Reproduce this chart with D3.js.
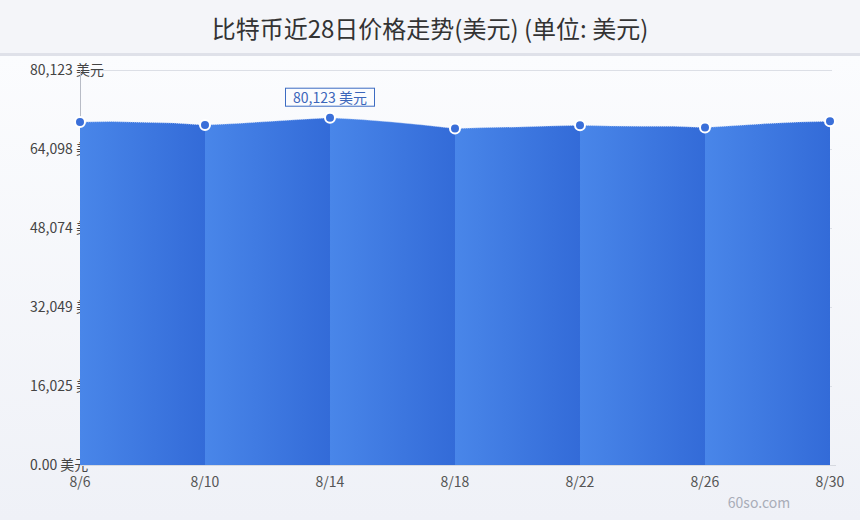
<!DOCTYPE html>
<html lang="zh">
<head>
<meta charset="utf-8">
<title>比特币近28日价格走势</title>
<script src="https://cdn.jsdelivr.net/npm/d3@7"></script>
<style>
  html, body { margin: 0; padding: 0; background: #f1f3f8; }
  svg { display: block; font-family: "Noto Sans CJK SC", "Noto Sans", sans-serif; }
</style>
</head>
<body>
<script>
// daily closing price, 8/6 .. 8/30
var days = ["8/6","8/7","8/8","8/9","8/10","8/11","8/12","8/13","8/14","8/15","8/16","8/17","8/18",
            "8/19","8/20","8/21","8/22","8/23","8/24","8/25","8/26","8/27","8/28","8/29","8/30"];
var prices = [69574, 69676, 69513, 69371, 68966, 69270, 69676, 70081, 70446, 70081, 69574, 68966, 68256,
              68459, 68561, 68763, 68905, 68763, 68702, 68702, 68459, 68864, 69270, 69574, 69716];
var yTicks = [0, 16025, 32049, 48074, 64098, 80123];
var yTickLabels = ["0.00 美元", "16,025 美元", "32,049 美元", "48,074 美元", "64,098 美元", "80,123 美元"];
var markIdx = [0, 4, 8, 12, 16, 20, 24];   // every 4th day gets a dot and a tick
var maxLabel = "80,123 美元";

var W = 860, H = 520;
var m = {top: 70, right: 30, bottom: 55, left: 80};

var svg = d3.select("body").append("svg").attr("width", W).attr("height", H);
var defs = svg.append("defs");

var bg = defs.append("linearGradient").attr("id", "bg").attr("x1", 0).attr("y1", 0).attr("x2", 0).attr("y2", 1);
bg.append("stop").attr("offset", "0%").attr("stop-color", "#fbfcfe");
bg.append("stop").attr("offset", "100%").attr("stop-color", "#eff1f7");

var seg = defs.append("linearGradient").attr("id", "seg").attr("x1", 0).attr("y1", 0).attr("x2", 1).attr("y2", 0);
seg.append("stop").attr("offset", "0%").attr("stop-color", "#4986e9");
seg.append("stop").attr("offset", "100%").attr("stop-color", "#336bd8");

// title bar + body background
svg.append("rect").attr("x", 0).attr("y", 56).attr("width", W).attr("height", H - 56).attr("fill", "url(#bg)");
svg.append("rect").attr("x", 0).attr("y", 0).attr("width", W).attr("height", 53).attr("fill", "#f4f5f9");
svg.append("rect").attr("x", 0).attr("y", 53).attr("width", W).attr("height", 3).attr("fill", "#dfe1e9");
svg.append("text").attr("x", W / 2).attr("y", 38).attr("text-anchor", "middle")
  .attr("font-size", 24).attr("fill", "#333")
  .text("比特币近28日价格走势(美元) (单位: 美元)");

var x = d3.scaleLinear().domain([0, days.length - 1]).range([m.left, W - m.right]);
var y = d3.scaleLinear().domain([0, 80123]).range([H - m.bottom, m.top]);

// grid lines
svg.append("g").selectAll("line").data(yTicks).join("line")
  .attr("x1", m.left).attr("x2", W - m.right + 2)
  .attr("y1", d => y(d) + 0.5).attr("y2", d => y(d) + 0.5)
  .attr("stroke", "#dcdfe6");

// y tick labels (left aligned, under the area)
svg.append("g").selectAll("text").data(yTicks).join("text")
  .attr("x", 30).attr("y", d => y(d) + 5)
  .attr("font-size", 14).attr("fill", "#444")
  .text((d, i) => yTickLabels[i]);

// y axis line
svg.append("line").attr("x1", m.left + 0.5).attr("x2", m.left + 0.5)
  .attr("y1", y(80123)).attr("y2", y(0)).attr("stroke", "#b8bcc6");
// x axis line
svg.append("line").attr("x1", m.left).attr("x2", W - m.right + 6)
  .attr("y1", y(0) + 0.5).attr("y2", y(0) + 0.5).attr("stroke", "#d6d9e0");

var pts = prices.map((p, i) => ({i: i, v: p}));
var area = d3.area().x(d => x(d.i)).y0(y(0)).y1(d => y(d.v));
var line = d3.line().x(d => x(d.i)).y(d => y(d.v));

// one gradient-filled area per 4-day segment
for (var k = 0; k < markIdx.length - 1; k++) {
  var part = pts.slice(markIdx[k], markIdx[k + 1] + 1);
  svg.append("path").datum(part).attr("d", area).attr("fill", "url(#seg)");
}
svg.append("path").datum(pts).attr("d", line)
  .attr("fill", "none").attr("stroke", "#dbe5f7").attr("stroke-width", 1)
  .attr("stroke-dasharray", "1,1").attr("opacity", 0.8);

// x tick labels
svg.append("g").selectAll("text").data(markIdx).join("text")
  .attr("x", d => x(d)).attr("y", 487).attr("text-anchor", "middle")
  .attr("font-size", 14).attr("fill", "#555")
  .text(d => days[d]);

// dots
svg.append("g").selectAll("circle").data(markIdx).join("circle")
  .attr("cx", d => x(d)).attr("cy", d => y(prices[d]))
  .attr("r", 5).attr("fill", "#3a6fd9").attr("stroke", "#fff").attr("stroke-width", 2);

// max label
var mi = d3.maxIndex(prices);
var lx = x(mi), ly = y(prices[mi]) - 20;
svg.append("rect").attr("x", lx - 44.5).attr("y", ly - 9.5).attr("width", 89).attr("height", 18)
  .attr("fill", "#fbfcfe").attr("stroke", "#3d6cc2");
svg.append("text").attr("x", lx).attr("y", ly + 5).attr("text-anchor", "middle")
  .attr("font-size", 14).attr("fill", "#3c66ba").text(maxLabel);

// watermark
svg.append("text").attr("x", 759).attr("y", 508).attr("text-anchor", "middle")
  .attr("font-size", 14).attr("fill", "#a9adb8").text("60so.com");
</script>
</body>
</html>
